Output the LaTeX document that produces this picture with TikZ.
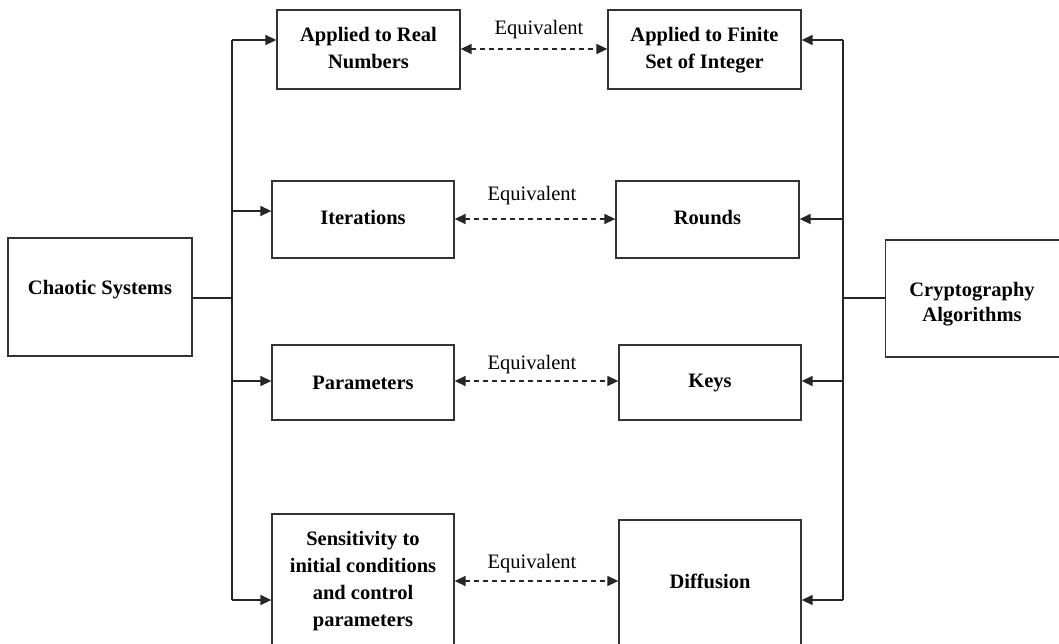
\documentclass[tikz,border=0pt]{standalone}
\usepackage{fontspec}
\setmainfont{Liberation Serif}
\usetikzlibrary{arrows.meta}
\newcommand{\mlines}[1]{\begin{tabular}{@{}c@{}}#1\end{tabular}}
\begin{document}
\begin{tikzpicture}[x=1pt,y=-1pt,
  box/.style={draw=black!80, line width=1.3pt, inner sep=0pt, align=center,
    font=\fontsize{20.5}{27}\selectfont\bfseries},
  boxtext/.style={inner sep=0pt, align=center, font=\fontsize{20.5}{27}\selectfont\bfseries},
  conn/.style={line width=1.4pt, draw=black!85},
  tip/.tip={Triangle[length=11pt,width=10pt]},
  arr/.style={conn, -tip},
  eqv/.style={line width=1.4pt, draw=black!85, dash pattern=on 5pt off 4pt, tip-tip},
  eqlab/.style={font=\fontsize{20.5}{22}\selectfont, inner sep=0pt}]
\clip (0,0) rectangle (1059,643);
\fill[white] (0,0) rectangle (1059,643);
% outer boxes
\node[box, minimum width=184pt, minimum height=118pt] (cs) at (100,297) {\raisebox{19pt}{Chaotic Systems}};
\node[box, minimum width=178pt, minimum height=117pt, anchor=west] (ca) at (885,298.5) {};
\node[boxtext] (catext) at (972,304) {\fontsize{20.5}{25}\selectfont\mlines{Cryptography\\Algorithms}};
% left column
\node[box, minimum width=183pt, minimum height=79pt] (ar) at (368.5,49.5) {\raisebox{3pt}{\mlines{Applied to Real\\Numbers}}};
\node[box, minimum width=182pt, minimum height=77pt] (it) at (363,219.5) {\raisebox{4pt}{Iterations}};
\node[box, minimum width=182pt, minimum height=75pt] (pa) at (363,382.5) {Parameters};
\node[box, minimum width=182pt, minimum height=140pt] (se) at (363,584) {};
\node[boxtext] (setext) at (363,581) {\mlines{Sensitivity to\\initial conditions\\and control\\parameters}};
% right column
\node[box, minimum width=193pt, minimum height=79pt] (af) at (704.5,49.5) {\raisebox{3pt}{\mlines{Applied to Finite\\Set of Integer}}};
\node[box, minimum width=183pt, minimum height=77pt] (ro) at (707.5,219.5) {\raisebox{4pt}{Rounds}};
\node[box, minimum width=182pt, minimum height=75pt] (ke) at (710,382.5) {Keys};
\node[box, minimum width=182pt, minimum height=134pt] (di) at (710,587) {\raisebox{11pt}{Diffusion}};
% left trunk
\coordinate (L1) at (232,40);
\coordinate (L2) at (232,211);
\coordinate (L3) at (232,381);
\coordinate (L4) at (232,600);
\draw[conn] (L1) -- (L4);
\draw[conn] (cs.east |- 0,298) -- (L1 |- 0,298);
\draw[arr] (L1) -- (ar.west |- L1);
\draw[arr] (L2) -- (it.west |- L2);
\draw[arr] (L3) -- (pa.west |- L3);
\draw[arr] (L4) -- (se.west |- L4);
% right trunk
\coordinate (R1) at (843,40);
\coordinate (R2) at (843,219);
\coordinate (R3) at (843,381);
\coordinate (R4) at (843,600);
\draw[conn] (R1) -- (R4);
\draw[conn] (ca.west |- 0,298) -- (R1 |- 0,298);
\draw[arr] (R1) -- (af.east |- R1);
\draw[arr] (R2) -- (ro.east |- R2);
\draw[arr] (R3) -- (ke.east |- R3);
\draw[arr] (R4) -- (di.east |- R4);
% equivalences
\draw[eqv] (ar.east |- 0,49) -- (af.west |- 0,49);
\node[eqlab] (e1) at (539,30) {Equivalent};
\draw[eqv] (it.east |- 0,219) -- (ro.west |- 0,219);
\node[eqlab] (e2) at (532,196) {Equivalent};
\draw[eqv] (pa.east |- 0,381) -- (ke.west |- 0,381);
\node[eqlab] (e3) at (532,365) {Equivalent};
\draw[eqv] (se.east |- 0,581) -- (di.west |- 0,581);
\node[eqlab] (e4) at (532,564) {Equivalent};
\end{tikzpicture}
\end{document}
